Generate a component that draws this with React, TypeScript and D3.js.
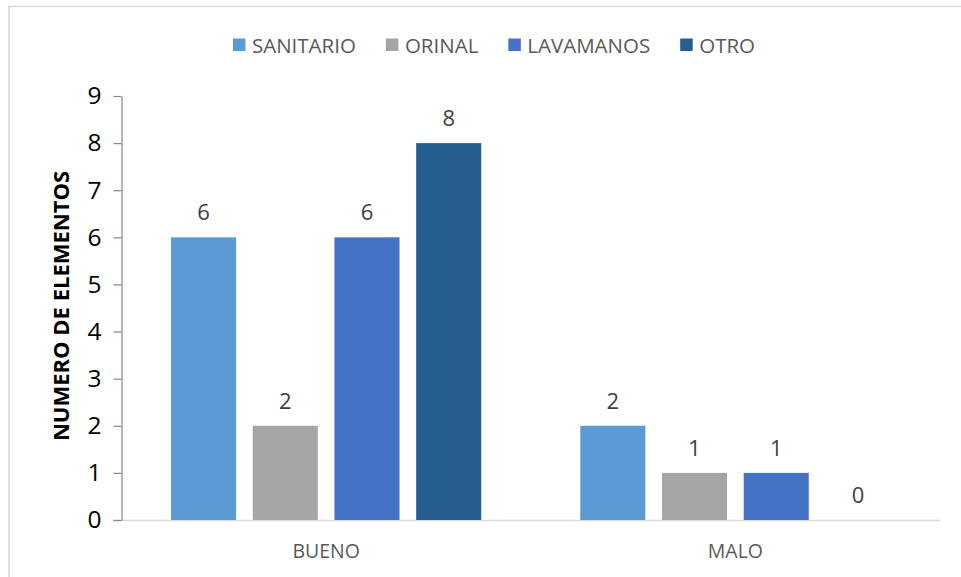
import * as React from 'react'
import * as d3 from 'd3'

const {useEffect, useRef} = React

const categories = ['BUENO', 'MALO']
const seriesNames = ['SANITARIO', 'ORINAL', 'LAVAMANOS', 'OTRO']
const sanitario = [6, 2]
const orinal = [2, 1]
const lavamanos = [6, 1]
const otro = [8, 0]
const yTicks = [0, 1, 2, 3, 4, 5, 6, 7, 8, 9]
const colors = ['#5B9BD5', '#A5A5A5', '#4472C4', '#255E91']

const W = 961
const H = 577
const FONT = '"Open Sans", "Liberation Sans", sans-serif'

export default function App() {
  const ref = useRef<SVGSVGElement>(null)

  useEffect(() => {
    const svg = d3.select(ref.current)
    svg.selectAll('*').remove()

    const values = [sanitario, orinal, lavamanos, otro]
    const left = 121.5, right = 940, top = 96, bottom = 520

    // marco
    svg.append('rect')
      .attr('x', 9).attr('y', 6.5)
      .attr('width', W + 10).attr('height', H + 10)
      .attr('fill', '#fff').attr('stroke', '#d9d9d9').attr('stroke-width', 1.5)

    const y = d3.scaleLinear().domain([0, 9]).range([bottom, top])
    const x0 = d3.scaleBand().domain(categories).range([left, right])
      .paddingInner(0.242).paddingOuter(0.121)
    const x1 = d3.scaleBand().domain(seriesNames).range([0, x0.bandwidth()])
      .paddingInner(0.204).paddingOuter(0)

    // eje x
    svg.append('line')
      .attr('x1', 113).attr('x2', right)
      .attr('y1', bottom + 0.5).attr('y2', bottom + 0.5)
      .attr('stroke', '#d9d9d9').attr('stroke-width', 1.5)

    // barras
    seriesNames.forEach((s, si) => {
      const g = svg.append('g')
      categories.forEach((c, ci) => {
        const v = values[si][ci]
        const bx = x0(c)! + x1(s)!
        if (v > 0) {
          g.append('rect')
            .attr('x', bx).attr('y', y(v))
            .attr('width', x1.bandwidth()).attr('height', bottom - y(v))
            .attr('fill', colors[si])
        }
        g.append('text')
          .attr('x', bx + x1.bandwidth() / 2).attr('y', y(v) - 17)
          .attr('text-anchor', 'middle')
          .attr('font-family', FONT).attr('font-size', 22)
          .attr('fill', '#404040')
          .text(v)
      })
    })

    // eje y
    const axis = d3.axisLeft(y).tickValues(yTicks).tickSize(8).tickSizeOuter(0).tickPadding(12)
    const ga = svg.append('g').attr('transform', `translate(${left},0)`).call(axis)
    ga.select('.domain').attr('stroke', '#868686').attr('stroke-width', 1.2)
    ga.selectAll('.tick line').attr('stroke', '#868686').attr('stroke-width', 1.2)
    ga.selectAll('.tick text')
      .attr('font-family', FONT).attr('font-size', 24.5).attr('fill', '#000')

    svg.append('text')
      .attr('transform', `translate(69,306) rotate(-90)`)
      .attr('text-anchor', 'middle')
      .attr('font-family', FONT).attr('font-size', 22).attr('font-weight', 'bold')
      .attr('fill', '#000')
      .text('NUMERO DE ELEMENTOS')

    // categorias
    svg.selectAll('.cat').data(categories).join('text')
      .attr('class', 'cat')
      .attr('x', d => x0(d)! + x0.bandwidth() / 2).attr('y', 558)
      .attr('text-anchor', 'middle')
      .attr('font-family', FONT).attr('font-size', 19.5)
      .attr('fill', '#595959')
      .text(d => d)

    // leyenda
    const lg = svg.append('g')
    let cx = 0
    seriesNames.forEach((s, i) => {
      const item = lg.append('g').attr('transform', `translate(${cx},0)`)
      item.append('rect').attr('x', 0).attr('y', 38.5).attr('width', 12.5).attr('height', 12.5)
        .attr('fill', colors[i])
      const t = item.append('text').attr('x', 19).attr('y', 52.5)
        .attr('font-family', FONT).attr('font-size', 20.5).attr('fill', '#595959')
        .text(s)
      const tw = (t.node() as SVGTextElement).getComputedTextLength()
      cx += 19 + tw + 30
    })
    const total = cx - 30
    lg.attr('transform', `translate(${494 - total / 2},0)`)
  }, [])

  return (
    <svg ref={ref} width={W} height={H}
      style={{position: 'absolute', left: 0, top: 0, background: '#fff'}} />
  )
}
